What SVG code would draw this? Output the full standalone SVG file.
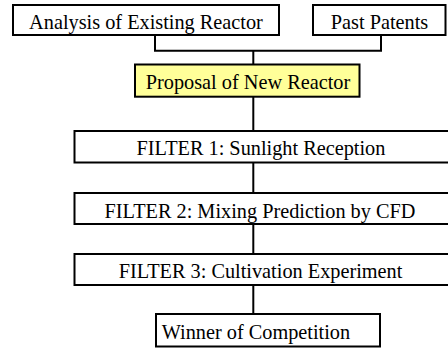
<svg xmlns="http://www.w3.org/2000/svg" width="448" height="349" viewBox="0 0 448 349">
  <style>
    .box { fill: #ffffff; stroke: #000000; stroke-width: 2; }
    .hl { fill: #ffff99; }
    .lbl { font-family: "Liberation Serif", "Times New Roman", serif; font-size: 20.3px; fill: #000000; }
    .mid { text-anchor: middle; }
    .wire { fill: none; stroke: #000000; stroke-width: 2; }
  </style>

  <g id="connectors">
    <path class="wire" d="M155 35 V50.7 H381 V35"/>
    <path class="wire" d="M253.3 50.7 V64.5"/>
    <path class="wire" d="M253.3 96.7 V131"/>
    <path class="wire" d="M253.3 162.5 V193"/>
    <path class="wire" d="M253.3 224 V254"/>
    <path class="wire" d="M253.3 285 V314"/>
  </g>

  <g id="analysis">
    <rect class="box" x="13" y="5" width="266" height="30"/>
    <text class="lbl mid" x="146" y="29.3">Analysis of Existing Reactor</text>
  </g>

  <g id="patents">
    <rect class="box" x="313" y="5" width="132.5" height="30"/>
    <text class="lbl mid" x="379.5" y="29.3">Past Patents</text>
  </g>

  <g id="proposal">
    <rect class="box hl" x="135" y="64.5" width="224.5" height="32.2"/>
    <text class="lbl mid" x="248" y="89.3">Proposal of New Reactor</text>
  </g>

  <g id="filter1">
    <rect class="box" x="74.5" y="131" width="375" height="31.5"/>
    <text class="lbl mid" x="261" y="155.3">FILTER 1: Sunlight Reception</text>
  </g>

  <g id="filter2">
    <rect class="box" x="74.5" y="193" width="375" height="31"/>
    <text class="lbl mid" x="260" y="217.5">FILTER 2: Mixing Prediction by CFD</text>
  </g>

  <g id="filter3">
    <rect class="box" x="74.5" y="254" width="375" height="31"/>
    <text class="lbl mid" x="260.5" y="278.3">FILTER 3: Cultivation Experiment</text>
  </g>

  <g id="winner">
    <rect class="box" x="156" y="314" width="224" height="32.5"/>
    <text class="lbl" x="161.7" y="338.8">Winner of Competition</text>
  </g>
</svg>
